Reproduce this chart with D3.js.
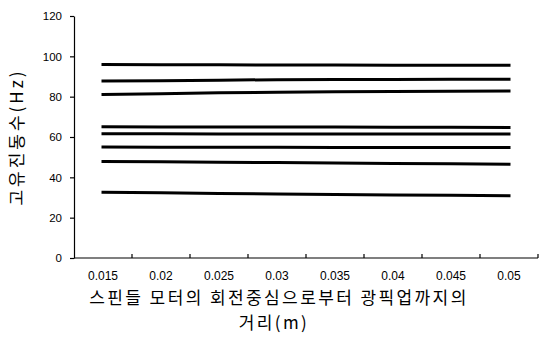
<!DOCTYPE html>
<html>
<head>
<meta charset="utf-8">
<script src="https://cdn.jsdelivr.net/npm/d3@7"></script>
<style>
  html, body { margin: 0; padding: 0; background: #fff; }
  svg { display: block; }
</style>
</head>
<body>
<svg id="chart" width="539" height="338"></svg>
<script>
// Distance from spindle motor centre to optical pickup (m)
const distances = ["0.015", "0.02", "0.025", "0.03", "0.035", "0.04", "0.045", "0.05"];

// Natural frequency (Hz) of each mode at every distance
const mode1 = [32.6, 32.3, 32.0, 31.7, 31.5, 31.3, 31.1, 30.9];
const mode2 = [47.8, 47.7, 47.5, 47.3, 47.1, 46.9, 46.7, 46.5];
const mode3 = [55.0, 54.9, 54.9, 54.9, 54.8, 54.8, 54.8, 54.8];
const mode4 = [61.6, 61.6, 61.5, 61.5, 61.5, 61.5, 61.5, 61.5];
const mode5 = [65.1, 65.0, 65.0, 64.9, 64.9, 64.8, 64.8, 64.7];
const mode6 = [81.1, 81.4, 81.9, 82.2, 82.4, 82.6, 82.7, 82.8];
const mode7 = [87.8, 87.9, 88.2, 88.4, 88.5, 88.5, 88.6, 88.6];
const mode8 = [95.9, 95.8, 95.8, 95.7, 95.7, 95.6, 95.6, 95.6];

const yTicks = [0, 20, 40, 60, 80, 100, 120];

const modes = [mode1, mode2, mode3, mode4, mode5, mode6, mode7, mode8];

const svg = d3.select("#chart");
const plotLeft = 74, plotRight = 538, plotTop = 16, plotBottom = 258;

const x = d3.scaleBand().domain(distances).range([plotLeft, plotRight]).padding(0);
const y = d3.scaleLinear().domain([0, 120]).range([plotBottom, plotTop]);

const labelFont = "'Liberation Sans', Arial, sans-serif";
const koFont = "'Noto Sans CJK KR', sans-serif";

// Y axis: ticks point outward
const yAxis = svg.append("g")
  .attr("transform", `translate(${plotLeft},0)`)
  .call(d3.axisLeft(y).tickValues(yTicks).tickSize(4).tickPadding(8).tickSizeOuter(0));
yAxis.select(".domain").attr("stroke", "#000").attr("stroke-width", 1.2);
yAxis.selectAll(".tick line").attr("stroke", "#000").attr("stroke-width", 1.2);
yAxis.selectAll(".tick text")
  .attr("font-family", labelFont).attr("font-size", 11.5).attr("fill", "#000");

// X axis: category labels centred in bands, tick marks on band edges pointing inward
const xAxisG = svg.append("g").attr("transform", `translate(0,${plotBottom})`);
xAxisG.append("line")
  .attr("x1", plotLeft).attr("x2", plotRight).attr("y1", 0).attr("y2", 0)
  .attr("stroke", "#000").attr("stroke-width", 1.2);
const edges = distances.map(d => x(d)).concat([plotRight]).slice(1);
xAxisG.selectAll("line.edge").data(edges).join("line")
  .attr("class", "edge")
  .attr("x1", d => d).attr("x2", d => d).attr("y1", 0).attr("y2", -4)
  .attr("stroke", "#000").attr("stroke-width", 1.2);
xAxisG.selectAll("text.cat").data(distances).join("text")
  .attr("class", "cat")
  .attr("x", d => x(d) + x.bandwidth() / 2)
  .attr("y", 22)
  .attr("text-anchor", "middle")
  .attr("font-family", labelFont).attr("font-size", 12).attr("fill", "#000")
  .text(d => d);

// Mode lines
const line = d3.line()
  .x((d, i) => x(distances[i]) + x.bandwidth() / 2)
  .y(d => y(d));
svg.append("g").selectAll("path").data(modes).join("path")
  .attr("d", line)
  .attr("fill", "none")
  .attr("stroke", "#000")
  .attr("stroke-width", 3)
  .attr("stroke-linecap", "square");

// Axis titles
svg.append("text")
  .attr("transform", "translate(23,137) rotate(-90)")
  .attr("text-anchor", "middle")
  .attr("font-family", koFont).attr("font-size", 17).attr("letter-spacing", 3)
  .attr("fill", "#000")
  .text("고유진동수(Hz)");

const xt = svg.append("text")
  .attr("text-anchor", "middle")
  .attr("font-family", koFont).attr("font-size", 17).attr("letter-spacing", 2.4)
  .attr("fill", "#000");
xt.append("tspan").attr("x", 279).attr("y", 304).text("스핀들 모터의 회전중심으로부터 광픽업까지의");
xt.append("tspan").attr("x", 274).attr("y", 329).text("거리(m)");
</script>
</body>
</html>
